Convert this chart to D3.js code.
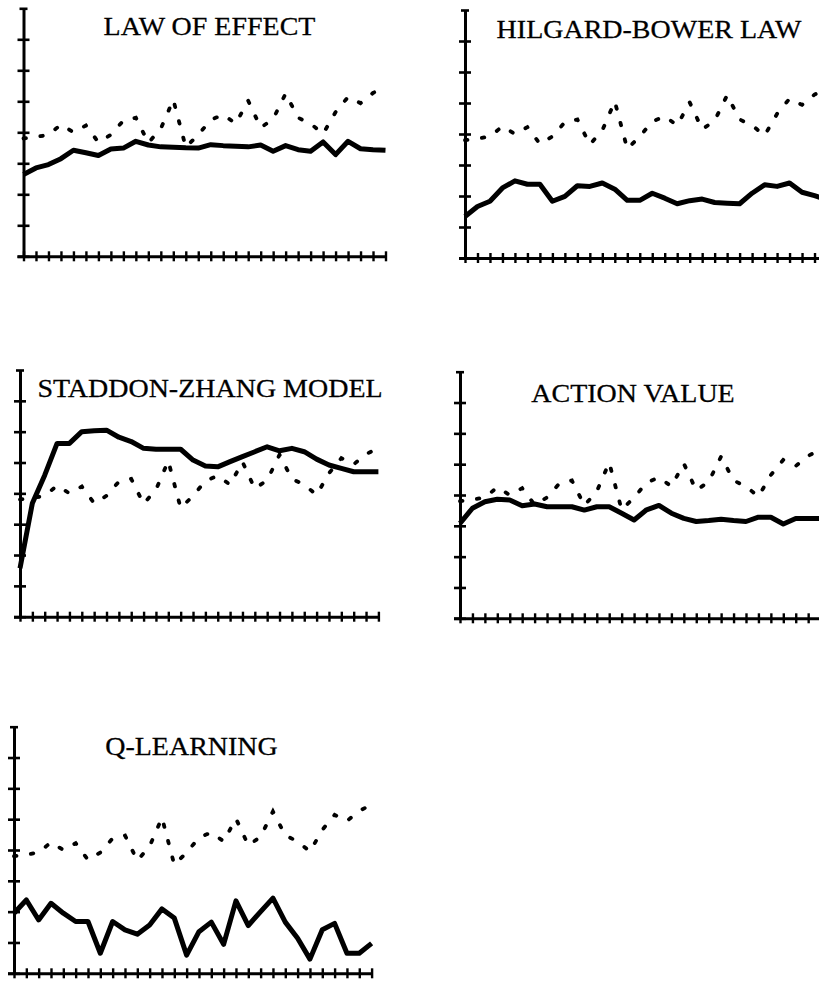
<!DOCTYPE html>
<html>
<head>
<meta charset="utf-8">
<script src="https://cdn.jsdelivr.net/npm/d3@7"></script>
<style>
  html, body { margin: 0; padding: 0; background: #fff; }
  svg { display: block; }
</style>
</head>
<body>
<svg id="chart" width="819" height="983"></svg>
<script>
// Trials 1..30 along the x axis
const trials = d3.range(1, 31);
// Unlabelled y gridlines: one tick every 0.1 up to 0.8
const yTicks = [0, 0.1, 0.2, 0.3, 0.4, 0.5, 0.6, 0.7, 0.8];

// Observed choice proportions (dotted, repeated in every panel)
const observed = [0.380, 0.385, 0.392, 0.425, 0.400, 0.422, 0.368, 0.392, 0.438, 0.447,
                  0.366, 0.412, 0.505, 0.352, 0.392, 0.440, 0.457, 0.428, 0.502, 0.415,
                  0.443, 0.525, 0.447, 0.428, 0.395, 0.465, 0.514, 0.494, 0.527, 0.547];

// Model predictions (solid)
const lawOfEffect = [0.264, 0.285, 0.296, 0.315, 0.342, 0.334, 0.325, 0.346, 0.349, 0.371,
                     0.359, 0.353, 0.352, 0.350, 0.349, 0.360, 0.357, 0.355, 0.353, 0.359,
                     0.339, 0.357, 0.344, 0.339, 0.369, 0.328, 0.371, 0.347, 0.344, 0.342];
const hilgardBower = [0.134, 0.166, 0.183, 0.226, 0.249, 0.238, 0.238, 0.183, 0.199, 0.233,
                      0.231, 0.242, 0.222, 0.186, 0.186, 0.209, 0.193, 0.175, 0.185, 0.190,
                      0.179, 0.177, 0.175, 0.209, 0.236, 0.231, 0.242, 0.212, 0.201, 0.188];
const staddonZhang = [0.157, 0.368, 0.459, 0.562, 0.562, 0.600, 0.603, 0.605, 0.582, 0.568,
                      0.546, 0.543, 0.543, 0.543, 0.508, 0.489, 0.486, 0.503, 0.519, 0.535,
                      0.551, 0.538, 0.546, 0.535, 0.511, 0.492, 0.481, 0.470, 0.470, 0.470];
const actionValue = [0.308, 0.357, 0.378, 0.386, 0.384, 0.365, 0.371, 0.362, 0.362, 0.362,
                     0.351, 0.362, 0.362, 0.341, 0.319, 0.352, 0.366, 0.341, 0.324, 0.314,
                     0.317, 0.321, 0.317, 0.314, 0.328, 0.328, 0.306, 0.324, 0.324, 0.324];
const qLearning = [0.195, 0.238, 0.173, 0.227, 0.195, 0.168, 0.168, 0.065, 0.168, 0.141,
                   0.127, 0.157, 0.209, 0.179, 0.059, 0.135, 0.166, 0.094, 0.235, 0.155,
                   0.200, 0.244, 0.166, 0.114, 0.046, 0.141, 0.162, 0.065, 0.065, 0.097];

const titles = ["LAW OF EFFECT", "HILGARD-BOWER LAW", "STADDON-ZHANG MODEL", "ACTION VALUE", "Q-LEARNING"];
const models = [lawOfEffect, hilgardBower, staddonZhang, actionValue, qLearning];

// Frame of each small panel on the page
const layout = [
  { left: 23.5, top: 8.3,   bottom: 256.3, width: 362.0, titleX: 209.5, titleY: 35 },
  { left: 465,  top: 10.0,  bottom: 258.0, width: 362.0, titleX: 649,   titleY: 38 },
  { left: 20,   top: 370.0, bottom: 616.7, width: 358.4, titleX: 210,   titleY: 397 },
  { left: 460,  top: 371.7, bottom: 618.3, width: 360.6, titleX: 633,   titleY: 402 },
  { left: 14,   top: 726.7, bottom: 973.3, width: 357.6, titleX: 191.5, titleY: 755 }
];

const svg = d3.select("#chart");

titles.forEach((title, k) => {
  const p = layout[k];
  const x = d3.scaleLinear().domain([1, 30]).range([p.left, p.left + p.width]);
  const y = d3.scaleLinear().domain([0, 0.8]).range([p.bottom, p.top]);
  const g = svg.append("g");

  // Vertical axis with ticks crossing the line
  const yAxis = g.append("g")
    .attr("transform", `translate(${p.left},0)`)
    .call(d3.axisLeft(y).tickValues(yTicks).tickSize(6).tickSizeOuter(0).tickFormat(""));
  yAxis.select(".domain").attr("stroke", "#000").attr("stroke-width", 3);
  yAxis.selectAll(".tick line")
    .attr("stroke", "#000")
    .attr("stroke-width", 2.6)
    .attr("x1", d => d === 0.8 ? 4 : 6)
    .attr("x2", d => d === 0.8 ? -4 : -6);

  // Horizontal axis, one crossing tick per trial
  const xAxis = g.append("g")
    .attr("transform", `translate(0,${p.bottom})`)
    .call(d3.axisBottom(x).tickValues(trials).tickSize(5).tickSizeOuter(0).tickFormat(""));
  xAxis.select(".domain")
    .attr("d", `M${x(1) - 6},0.5H${x(30) + 1}`)
    .attr("stroke", "#000").attr("stroke-width", 3);
  xAxis.selectAll(".tick line")
    .attr("stroke", "#000").attr("stroke-width", 2.4)
    .attr("y1", -5).attr("y2", 5);

  const line = d3.line()
    .x((d, i) => x(trials[i]))
    .y(d => y(d));

  // Observed data: dotted
  g.append("path")
    .datum(observed)
    .attr("d", line)
    .attr("fill", "none")
    .attr("stroke", "#000")
    .attr("stroke-width", 3.8)
    .attr("stroke-linecap", "round")
    .attr("stroke-dasharray", "2.5,14.5");

  // Model prediction: heavy solid
  g.append("path")
    .datum(models[k])
    .attr("d", line)
    .attr("fill", "none")
    .attr("stroke", "#000")
    .attr("stroke-width", 5)
    .attr("stroke-linejoin", "round");

  g.append("text")
    .attr("transform", `translate(${p.titleX},${p.titleY}) scale(1,0.9)`)
    .attr("text-anchor", "middle")
    .attr("font-family", "'Liberation Serif', 'Times New Roman', serif")
    .attr("font-size", 28)
    .attr("fill", "#000")
    .attr("stroke", "#000")
    .attr("stroke-width", 0.3)
    .text(title);
});
</script>
</body>
</html>
